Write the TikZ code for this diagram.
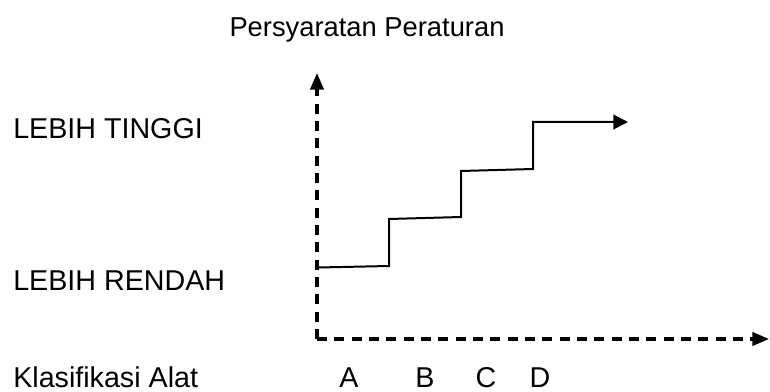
\documentclass[tikz,border=0pt]{standalone}
\usepackage{fontspec}
\setmainfont{Liberation Sans}
\usetikzlibrary{arrows.meta}

\begin{document}
\begin{tikzpicture}[x=0.75pt,y=0.75pt,yscale=-1,xscale=1,
  axisline/.style={line width=2.3pt,dash pattern={on 7.5pt off 5.5pt},-{Triangle[length=12.5pt,width=10pt]}},
  stairline/.style={line width=1.5pt,-{Triangle[length=11pt,width=11pt]}},
  lbl/.style={inner sep=0pt,font=\fontsize{21.5}{25}\selectfont}]
\useasboundingbox (0,0) rectangle (770,392);

%Coordinates: axes
\coordinate (O) at (317,339);
\coordinate (ytop) at (317,73);
\coordinate (xend) at (769,339);
%Coordinates: steps
\coordinate (s0) at (318,267.5);
\coordinate (s1) at (389,266);
\coordinate (s2) at (389,219);
\coordinate (s3) at (461,217);
\coordinate (s4) at (461,171);
\coordinate (s5) at (533,169);
\coordinate (s6) at (533,122);
\coordinate (s7) at (628,122);

%Straight Lines [axes]
\draw [axisline] (O) -- (ytop);
\draw [axisline] (O) -- (xend);
%Straight Lines [steps]
\draw [stairline] (s0) -- (s1) -- (s2) -- (s3) -- (s4) -- (s5) -- (s6) -- (s7);

% Text Node
\node (title) [lbl,anchor=base,font=\fontsize{20.5}{24}\selectfont] at (367,37) {Persyaratan Peraturan};
% Text Node
\node (high) [lbl,anchor=base west] at (13,138) {LEBIH TINGGI};
% Text Node
\node (low) [lbl,anchor=base west] at (13,290) {LEBIH RENDAH};
% Text Node
\node (klas) [lbl,anchor=base west] at (13,387) {Klasifikasi Alat};
% Text Node
\node (A) [lbl,anchor=base] at (349,387) {A};
% Text Node
\node (B) [lbl,anchor=base] at (425,387) {B};
% Text Node
\node (C) [lbl,anchor=base] at (486,387) {C};
% Text Node
\node (D) [lbl,anchor=base] at (540,387) {D};

\end{tikzpicture}
\end{document}
